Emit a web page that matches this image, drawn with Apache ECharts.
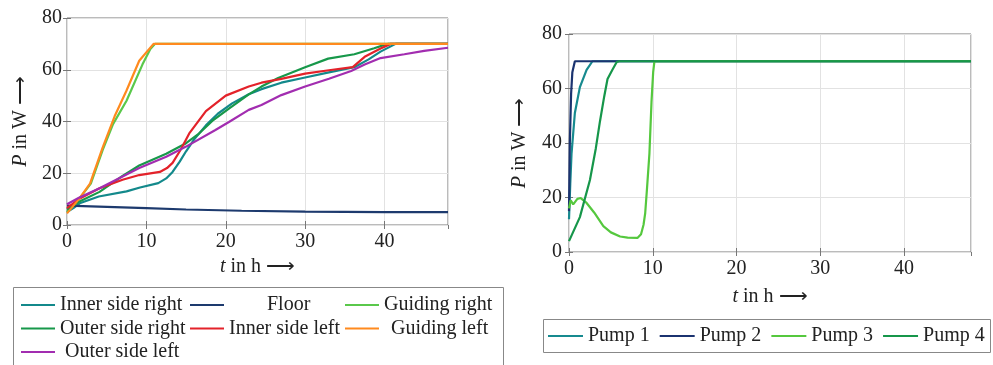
<!DOCTYPE html>
<html>
<head>
<meta charset="utf-8">
<script src="https://cdn.jsdelivr.net/npm/echarts@6/dist/echarts.min.js"></script>
<style>
  html, body { margin: 0; padding: 0; background: #fff; }
  #chart { width: 993px; height: 365px; }
</style>
</head>
<body>
<div id="chart"></div>
<script>
// left panel: [t in h, P in W]
const innerSideRight = [[0,5],[0.8,6.5],[1.6,8.4],[4,11],[7.5,13],[9.2,14.5],[11.5,16.2],[12.5,18],[13.3,20.5],[14.2,24.5],[15,28.5],[16,33],[17.5,38.5],[19,43],[20.8,47],[22.9,50.5],[24.5,52.5],[27,55],[30,57],[33,59],[36.2,61],[38,64],[39.5,67],[41.4,70],[48,70]];
const floor = [[0,7.5],[5,7],[10,6.5],[15,6],[22,5.5],[30,5.2],[40,5],[48,5]];
const guidingRight = [[0,5],[1.5,10],[3,16],[4.5,29],[5.8,39],[7.5,48],[9.5,62],[10.5,68],[11.1,70],[48,70]];
const outerSideRight = [[0,6],[1.5,9],[4.1,12.8],[7,19],[9.1,23],[12.5,27.5],[15,31.6],[16.5,35],[18.3,40.2],[20.4,45],[22.9,50.5],[24.5,53.5],[26.6,56.8],[30,61],[32.9,64.3],[36.2,66],[38.7,68.3],[40,69.6],[40.5,70],[48,70]];
const innerSideLeft = [[0,6.5],[1.5,10],[4.1,14.2],[7,17.5],[9.1,19.3],[11.7,20.5],[12.6,22],[13.3,24],[14.3,29],[15.4,35.4],[17.5,44],[20,50],[22.9,53.5],[24.5,55],[27,56.5],[30,58.5],[33,59.8],[36,61],[37.5,65],[39.5,68.2],[40.8,70],[48,70]];
const guidingLeft = [[0,4.5],[1.5,10],[2.9,16],[4.5,30],[6,42],[7.5,52],[9.1,63.5],[10.9,70],[48,70]];
const outerSideLeft = [[0,8],[1.5,10.5],[4.1,14.2],[9.1,22],[12.5,26.4],[15,30.3],[18.7,36.7],[20.4,39.8],[22.9,44.5],[24.5,46.4],[27,50.2],[30,53.5],[33,56.5],[35.8,59.5],[37.5,62],[39.5,64.5],[42.5,66],[45,67.3],[48,68.5]];

// right panel
const pump1 = [[0,12],[0.15,25],[0.3,36],[0.7,51],[1.3,60.5],[2.1,66.8],[2.8,70],[48,70]];
const pump2 = [[0,15],[0.1,40],[0.25,58],[0.4,66],[0.7,70],[48,70]];
const pump3 = [[0,16],[0.2,19],[0.5,17.5],[1.0,19.5],[1.4,19.8],[2.1,18],[3,14.5],[4.1,9.5],[5,7.2],[6.1,5.7],[7,5.3],[8.2,5.2],[8.6,6.5],[8.9,10],[9.1,14.3],[9.3,22.7],[9.6,36],[9.85,55],[10.05,66],[10.2,70],[48,70]];
const pump4 = [[0,4],[1.3,12.8],[2.5,26.4],[3.2,38],[3.7,48],[4.2,57],[4.6,63.5],[5.2,67],[5.7,69.7],[6,70],[48,70]];

const font = 'Liberation Serif';
const ink = '#222';

const leftSeries = [
  ['Inner side right', innerSideRight, '#13898b'],
  ['Floor', floor, '#1d3a6e'],
  ['Guiding right', guidingRight, '#5ac84b'],
  ['Outer side right', outerSideRight, '#17984a'],
  ['Inner side left', innerSideLeft, '#e3222a'],
  ['Guiding left', guidingLeft, '#ff8a1e'],
  ['Outer side left', outerSideLeft, '#a22db0']
];
const rightSeries = [
  ['Pump 1', pump1, '#178a8f'],
  ['Pump 2', pump2, '#1b3370'],
  ['Pump 3', pump3, '#55c83e'],
  ['Pump 4', pump4, '#16964a']
];

const chart = echarts.init(document.getElementById('chart'));

const nameStyle = {
  color: ink, fontFamily: font, fontSize: 20,
  rich: { i: { fontStyle: 'italic', fontFamily: font, fontSize: 20, color: ink } }
};
const tick = { inside: true, length: 4, lineStyle: { color: '#777' } };

function xAxes(gridIndex, margin, nameGap) {
  return [
    {
      type: 'value', gridIndex, min: 0, max: 48, interval: 10, position: 'bottom',
      axisLine: { show: false }, axisTick: tick,
      axisLabel: { showMaxLabel: false, margin, color: ink, fontFamily: font, fontSize: 20 },
      splitLine: { lineStyle: { color: '#e2e2e2' } },
      name: '{i|t} in h \u27F6', nameLocation: 'middle', nameGap, nameTextStyle: nameStyle
    },
    {
      type: 'value', gridIndex, min: 0, max: 48, interval: 10, position: 'top',
      axisLine: { show: false }, axisTick: tick,
      axisLabel: { show: false }, splitLine: { show: false }
    }
  ];
}
function yAxes(gridIndex, margin, nameGap) {
  return [
    {
      type: 'value', gridIndex, min: 0, max: 80, interval: 20, position: 'left',
      axisLine: { show: false }, axisTick: tick,
      axisLabel: { margin, color: ink, fontFamily: font, fontSize: 20 },
      splitLine: { lineStyle: { color: '#e2e2e2' } },
      name: '{i|P} in W \u27F6', nameLocation: 'middle', nameGap, nameRotate: 90,
      nameTextStyle: nameStyle
    },
    {
      type: 'value', gridIndex, min: 0, max: 80, interval: 20, position: 'right',
      axisLine: { show: false }, axisTick: tick,
      axisLabel: { show: false }, splitLine: { show: false }
    }
  ];
}

function mkSeries(list, axisIdx) {
  return list.map(([name, data, color]) => ({
    name, type: 'line', data, xAxisIndex: axisIdx, yAxisIndex: axisIdx,
    showSymbol: false, symbol: 'none',
    lineStyle: { color, width: 2.2 }, itemStyle: { color }
  }));
}

// extra gap before some legend texts (tikz centres them in the column)
const legendPad = { 'Floor': 38, 'Guiding left': 7, 'Outer side left': 5 };
const richPads = {};
Object.keys(legendPad).forEach(k => {
  richPads['p' + legendPad[k]] = {
    color: ink, fontFamily: font, fontSize: 20, lineHeight: 20,
    padding: [0, 0, 0, legendPad[k]]
  };
});
const legendText = { color: ink, fontFamily: font, fontSize: 20, lineHeight: 20 };

function leftLegend(names, left) {
  return {
    icon: 'rect', itemWidth: 34, itemHeight: 2, padding: 0,
    orient: 'vertical', left, top: 295, itemGap: 3.5, data: names,
    formatter: (n) => legendPad[n] ? '{p' + legendPad[n] + '|' + n + '}' : n,
    textStyle: { ...legendText, rich: richPads }
  };
}

chart.setOption({
  animation: false,
  grid: [
    { left: 67, top: 18, width: 381, height: 207, show: true, borderColor: '#777', borderWidth: 1 },
    { left: 569, top: 34, width: 402, height: 218, show: true, borderColor: '#777', borderWidth: 1 }
  ],
  xAxis: [...xAxes(0, 7, 32), ...xAxes(1, 7, 35)],
  yAxis: [...yAxes(0, 5, 36), ...yAxes(1, 7, 39)],
  legend: [
    leftLegend(['Inner side right', 'Outer side right', 'Outer side left'], 21),
    leftLegend(['Floor', 'Inner side left'], 190),
    leftLegend(['Guiding right', 'Guiding left'], 345),
    {
      icon: 'rect', itemWidth: 35, itemHeight: 2, padding: 0,
      orient: 'horizontal', left: 548, top: 326, itemGap: 10,
      data: rightSeries.map(s => s[0]), textStyle: legendText
    }
  ],
  graphic: [
    { type: 'rect', shape: { x: 13.5, y: 287.5, width: 490, height: 90 },
      style: { fill: 'none', stroke: '#888', lineWidth: 1 } },
    { type: 'rect', shape: { x: 543.5, y: 319.5, width: 447, height: 33 },
      style: { fill: 'none', stroke: '#888', lineWidth: 1 } }
  ],
  series: [
    ...mkSeries(leftSeries, 0),
    ...mkSeries(rightSeries, 2)
  ]
});

window.addEventListener('resize', () => chart.resize());
</script>
</body>
</html>
